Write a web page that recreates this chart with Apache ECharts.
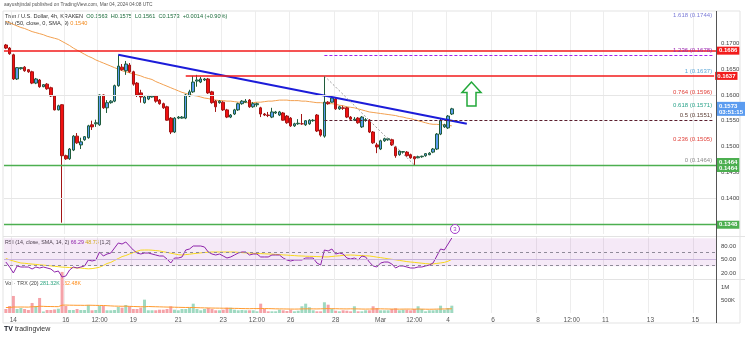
<!DOCTYPE html>
<html><head><meta charset="utf-8">
<script src="https://cdn.jsdelivr.net/npm/echarts/dist/echarts.min.js"></script>
<style>html,body{margin:0;padding:0;background:#fff}#c{width:745px;height:340px}</style>
</head><body><div id="c"></div>
<script>
// ---- data (4h candles) ----
const candleOpen = [.1697,.1691,.1678,.1631,.1651,.1654,.1649,.1645,.1623,.1629,
 .1616,.1621,.1614,.1598,.1571,.1581,.1482,.1476,.1493,.1520,
 .1503,.1513,.1517,.1542,.1544,.1542,.1600,.1575,.1585,.1588,
 .1618,.1654,.1647,.1658,.1645,.1623,.1604,.1585,.1592,.1596,
 .1598,.1590,.1583,.1577,.1555,.1528,.1555,.1555,.1555,.1598,
 .1606,.1627,.1625,.1629,.1631,.1606,.1588,.1585,.1586,.1571,
 .1557,.1563,.1571,.1583,.1586,.1590,.1577,.1581,.1575,.1563,
 .1561,.1557,.1565,.1561,.1565,.1559,.1555,.1540,.1544,.1544,
 .1542,.1544,.1550,.1561,.1532,.1520,.1586,.1586,.1592,.1573,
 .1575,.1575,.1557,.1551,.1555,.1538,.1551,.1551,.1528,.1503,
 .1495,.1511,.1513,.1513,.1499,.1484,.1489,.1489,.1484,.1480,
 .1478,.1480,.1482,.1484,.1489,.1495,.1524,.1538,.1536,.1563];
const candleClose = [.1691,.1680,.1631,.1653,.1653,.1647,.1645,.1623,.1631,.1616,
 .1620,.1612,.1598,.1571,.1579,.1482,.1476,.1495,.1520,.1507,
 .1509,.1519,.1540,.1538,.1546,.1600,.1575,.1585,.1588,.1618,
 .1656,.1649,.1660,.1645,.1621,.1600,.1596,.1596,.1598,.1598,
 .1588,.1583,.1575,.1551,.1528,.1555,.1557,.1557,.1600,.1606,
 .1625,.1629,.1631,.1631,.1604,.1585,.1577,.1588,.1571,.1557,
 .1561,.1571,.1583,.1588,.1588,.1577,.1583,.1583,.1563,.1561,
 .1560,.1567,.1567,.1567,.1551,.1546,.1540,.1544,.1545,.1544,
 .1550,.1551,.1551,.1530,.1522,.1586,.1583,.1594,.1573,.1577,
 .1574,.1557,.1553,.1553,.1546,.1557,.1552,.1528,.1507,.1499,
 .1511,.1515,.1515,.1503,.1482,.1491,.1490,.1482,.1478,.1476,
 .1480,.1481,.1486,.1487,.1495,.1524,.1550,.1542,.1559,.1573];
const candleLow = [.1689,.1678,.1629,.1629,.1649,.1645,.1643,.1621,.1621,.1614,
 .1615,.1610,.1596,.1570,.1570,.1352,.1474,.1474,.1491,.1505,
 .1495,.1511,.1515,.1532,.1538,.1540,.1573,.1565,.1583,.1586,
 .1616,.1647,.1639,.1643,.1618,.1596,.1585,.1583,.1590,.1595,
 .1585,.1581,.1573,.1550,.1524,.1526,.1553,.1554,.1553,.1596,
 .1604,.1616,.1623,.1627,.1602,.1583,.1567,.1583,.1569,.1555,
 .1555,.1561,.1569,.1581,.1585,.1575,.1575,.1577,.1557,.1559,
 .1557,.1555,.1563,.1559,.1550,.1544,.1538,.1538,.1542,.1542,
 .1540,.1542,.1548,.1528,.1519,.1517,.1581,.1585,.1571,.1571,
 .1571,.1555,.1551,.1550,.1544,.1536,.1548,.1526,.1505,.1487,
 .1493,.1509,.1511,.1501,.1478,.1482,.1486,.1480,.1476,.1464,
 .1477,.1478,.1480,.1483,.1487,.1493,.1522,.1536,.1534,.1561];
const candleHigh = [.1699,.1693,.1680,.1654,.1654,.1656,.1650,.1647,.1633,.1631,
 .1621,.1623,.1616,.1600,.1581,.1582,.1484,.1497,.1522,.1526,
 .1517,.1520,.1542,.1550,.1552,.1601,.1601,.1590,.1590,.1620,
 .1678,.1660,.1666,.1662,.1647,.1625,.1610,.1598,.1600,.1600,
 .1600,.1592,.1585,.1579,.1557,.1557,.1559,.1559,.1602,.1610,
 .1637,.1639,.1635,.1633,.1633,.1608,.1590,.1590,.1588,.1573,
 .1563,.1573,.1585,.1590,.1592,.1592,.1586,.1585,.1577,.1565,
 .1567,.1575,.1569,.1569,.1567,.1561,.1557,.1546,.1553,.1563,
 .1551,.1553,.1553,.1563,.1534,.1637,.1588,.1598,.1596,.1579,
 .1579,.1577,.1559,.1557,.1557,.1559,.1555,.1553,.1530,.1507,
 .1513,.1517,.1517,.1515,.1501,.1493,.1491,.1491,.1486,.1481,
 .1482,.1482,.1487,.1489,.1497,.1526,.1555,.1544,.1561,.1575];
const maValues = [.1743,.1740,.1737,.1734,.1731,.1729,.1726,.1723,.1721,.1719,
 .1717,.1714,.1712,.1710,.1708,.1704,.1700,.1696,.1691,.1687,
 .1683,.1679,.1675,.1672,.1668,.1665,.1662,.1659,.1656,.1653,
 .1650,.1647,.1645,.1643,.1641,.1639,.1637,.1634,.1632,.1630,
 .1626,.1623,.1620,.1617,.1614,.1611,.1608,.1605,.1603,.1601,
 .1599,.1598,.1596,.1594,.1593,.1591,.1590,.1589,.1589,.1588,
 .1588,.1587,.1586,.1586,.1585,.1585,.1585,.1586,.1586,.1587,
 .1588,.1588,.1589,.1590,.1590,.1590,.1589,.1589,.1589,.1588,
 .1588,.1587,.1586,.1585,.1585,.1584,.1583,.1583,.1582,.1580,
 .1579,.1577,.1576,.1575,.1573,.1571,.1569,.1567,.1566,.1565,
 .1564,.1563,.1562,.1561,.1560,.1558,.1557,.1555,.1554,.1552,
 .1550,.1548,.1546,.1544,.1543,.1543,.1542,.1542,.1541,.1540];
const rsiValues = [44.4,33.3,20.0,35.6,33.3,33.3,33.3,28.9,33.3,31.1,
 33.3,31.1,28.9,22.2,24.4,11.1,13.3,26.7,33.3,31.1,
 33.3,35.6,48.9,46.7,48.9,66.7,57.8,62.2,64.4,75.6,
 86.7,84.4,88.9,80.0,71.1,64.4,62.2,64.4,64.4,62.2,
 60.0,57.8,57.8,51.1,42.2,53.3,53.3,55.6,71.1,73.3,
 80.0,80.0,80.0,77.8,66.7,62.2,60.0,62.2,57.8,53.3,
 55.6,60.0,64.4,66.7,66.7,60.0,62.2,62.2,55.6,55.6,
 55.6,60.0,60.0,60.0,53.3,48.9,46.7,48.9,48.9,48.9,
 53.3,53.3,53.3,42.2,37.8,71.1,68.9,73.3,62.2,64.4,
 62.2,53.3,51.1,53.3,48.9,57.8,55.6,44.4,35.6,33.3,
 42.2,44.4,44.4,40.0,31.1,35.6,35.6,33.3,31.1,31.1,
 33.3,33.3,35.6,37.8,42.2,57.8,73.3,71.1,84.4,97.8];
const rsiMaValues = [52.2,49.3,46.7,44.4,42.2,41.6,40.7,39.8,39.1,38.2,
 37.6,36.7,35.8,34.9,34.0,33.1,32.7,32.2,31.8,31.3,
 31.1,30.0,29.3,29.8,31.1,32.9,36.7,41.1,43.6,48.0,
 52.2,56.4,58.9,62.2,65.3,68.4,70.9,71.1,71.1,70.7,
 69.8,68.9,67.3,65.8,64.0,62.4,60.7,60.0,60.9,61.8,
 62.9,63.8,64.7,65.6,66.2,66.7,66.7,66.7,66.7,66.7,
 66.7,66.7,66.0,65.3,64.7,64.2,63.8,63.3,63.1,62.7,
 62.2,62.0,61.3,60.9,60.2,59.8,59.1,58.7,58.0,57.8,
 57.3,57.1,56.9,56.4,56.2,55.8,55.8,56.7,57.6,58.2,
 59.1,59.8,60.0,59.6,59.1,58.7,58.2,57.8,56.7,55.3,
 54.2,52.9,51.6,50.4,49.3,48.0,46.7,45.3,44.4,43.6,
 42.7,41.8,40.9,40.2,40.2,41.3,42.4,43.6,46.2,50.2];
const volumeK = [154,269,654,154,192,154,115,385,269,577,
 58,115,115,135,165,1577,269,115,115,154,
 115,115,308,104,115,269,269,104,104,115,
 231,204,308,258,154,154,204,512,104,104,
 104,127,127,154,258,127,104,154,154,204,
 358,154,104,154,192,154,104,104,127,204,
 204,127,104,115,104,104,104,65,358,154,
 65,65,65,127,104,77,127,65,88,258,
 358,219,104,65,65,412,319,154,88,65,
 104,88,65,258,65,65,104,104,258,192,
 104,104,104,154,181,104,127,127,104,154,
 258,154,65,104,104,127,281,127,192,281];
const volumeMaK = [210,212,230,228,230,229,226,240,242,260,255,250,248,245,243,
 300,305,300,298,296,296,293,300,296,292,290,288,280,272,265,262,258,262,
 255,250,245,240,238,250,244,240,236,232,228,226,222,218,215,212,214,210,205,200,196,194,190,188,186,184,182,180,178,176,
 170,168,165,170,168,172,170,168,165,160,158,156,154,152,150,152,156,160,160,158,
 156,160,165,168,166,164,160,158,156,160,158,156,152,150,152,155,158,160,156,154,
 152,150,148,150,152,150,148,152,150,146,144,146,150,152,156,158,162];
// time axis: 4h slots, tick labels
const slotCount = 190;
const timeTickSlots = [2,16,25,34,46,58,67,76,88,100,109,118,130,142,151,160,172,184];
const timeTickLabels = ['14','16','12:00','19','21','23','12:00','26','28','Mar','12:00','4','6','8','12:00','11','13','15'];
// drawings
const trendStart = [30, 0.1678], trendEnd = [123, 0.1544];
const resistanceTop = 0.1686;
const resistanceSecond = 0.1637, resistanceSecondFrom = 48;
const supportLow = 0.1348;
const fibLow = 0.1464, fibHigh = 0.1637, fibFromSlot = 85, fibLowSlot = 109;
const fibLevels = [0, 0.236, 0.5, 0.618, 0.764, 1, 1.236, 1.618];
const lastTimer = '03:51:15';

// ---- build ----
const cats = Array.from({length: slotCount}, (_, i) => String(i));
const tickSet = new Set(timeTickSlots);
const candles = candleOpen.map((o, i) => [o, candleClose[i], candleLow[i], candleHigh[i]]);
const vols = volumeK.map((v, i) => ({value: v * 1000, itemStyle: {color: candleClose[i] >= candleOpen[i] ? '#9fd9c1' : '#f5a2a8'}}));
const volMa = volumeMaK.map(v => v * 1000);
const lastClose = candleClose[candleClose.length - 1];
const lastSlot = slotCount - 1;

const fibColor = {0:'#8a8a8a',0.236:'#e0413a',0.5:'#5d4037',0.618:'#2aa38a',0.764:'#e0413a',1:'#5fa8d8',1.236:'#9c27b0',1.618:'#7c7cd8'};
const fibLines = fibLevels.map(l => {
  const p = fibLow + l * (fibHigh - fibLow);
  let ls = {color: 'rgba(0,0,0,0)', width: 0};
  if (l === 0.5) ls = {color: '#5a1e2e', type: [3, 2], width: 1};
  if (l === 1.236) ls = {color: '#a020f0', type: [3, 2], width: 1};
  return [{coord: [fibFromSlot, p], lineStyle: ls,
    label: {show: true, position: 'insideEndTop', distance: 2, formatter: l + ' (' + p.toFixed(4) + ')', color: fibColor[l], fontSize: 6}},
    {coord: [lastSlot, p]}];
});
function boxLabel(text, bg) {
  return {show: true, position: 'end', distance: 1, formatter: text, color: '#fff', backgroundColor: bg,
    padding: [1, 2], fontSize: 6, lineHeight: 6, fontWeight: 'bold'};
}
const markData = [
  {yAxis: 0.16, lineStyle: {color: '#e6e6e6', width: 1, type: 'solid'}, label: {show: false}},
  {yAxis: 0.14, lineStyle: {color: '#e6e6e6', width: 1, type: 'solid'}, label: {show: false}},
  {yAxis: resistanceTop, lineStyle: {color: '#f21b1b', width: 1.5, type: 'solid'}, label: boxLabel(resistanceTop.toFixed(4), '#f21b1b')},
  [{coord: [resistanceSecondFrom, resistanceSecond], lineStyle: {color: '#f21b1b', width: 1.5, type: 'solid'}, label: boxLabel(resistanceSecond.toFixed(4), '#f21b1b')},
   {coord: [lastSlot, resistanceSecond]}],
  {yAxis: fibLow, lineStyle: {color: '#4caf50', width: 1.3, type: 'solid'}, label: boxLabel(fibLow.toFixed(4) + '\n' + fibLow.toFixed(4), '#4caf50')},
  {yAxis: supportLow, lineStyle: {color: '#4caf50', width: 1.3, type: 'solid'}, label: boxLabel(supportLow.toFixed(4), '#4caf50')},
  {yAxis: lastClose, lineStyle: {color: 'rgba(0,0,0,0)', width: 0}, label: boxLabel(lastClose.toFixed(4) + '\n' + lastTimer, '#5b9cf0')},
  [{coord: [fibFromSlot, fibHigh], lineStyle: {color: '#9a9a9a', type: [2, 2], width: 1}, label: {show: false}},
   {coord: [fibLowSlot, fibLow]}],
  ...fibLines
];

function xAx(gi, showLabels) {
  return {type: 'category', gridIndex: gi, data: cats, boundaryGap: true,
    axisLine: {show: false}, axisTick: {show: false},
    axisLabel: {show: showLabels, interval: (i) => tickSet.has(i), fontSize: 6.5, color: '#555', margin: 4,
      formatter: (v, i) => timeTickLabels[timeTickSlots.indexOf(Number(v))] || ''},
    splitLine: {show: true, interval: (i) => tickSet.has(i), lineStyle: {color: '#ededed', width: 1}}};
}
const chart = echarts.init(document.getElementById('c'), null, {renderer: 'canvas'});
const font = 'Liberation Sans, Arial, sans-serif';
chart.setOption({
  animation: false,
  textStyle: {fontFamily: font},
  grid: [
    {left: 4, right: 29, top: 11, height: 223},
    {left: 4, right: 29, top: 237, height: 45},
    {left: 4, right: 29, top: 270, height: 43}
  ],
  xAxis: [xAx(0, false), xAx(1, false), xAx(2, true)],
  yAxis: [
    {type: 'value', gridIndex: 0, position: 'right', min: 0.133, max: 0.1763, interval: 0.001,
      axisLine: {show: false}, axisTick: {show: false}, splitLine: {show: false},
      axisLabel: {fontSize: 6, color: '#444', margin: 5, formatter: v => {
        const k = Math.round(v * 1000);
        return (Math.abs(v * 1000 - k) < 1e-6 && k % 5 === 0 && k >= 140 && k <= 170) ? v.toFixed(4) : '';
      }}},
    {type: 'value', gridIndex: 1, position: 'right', min: 0, max: 100, interval: 10,
      axisLine: {show: false}, axisTick: {show: false}, splitLine: {show: false},
      axisLabel: {fontSize: 6, color: '#444', margin: 5, formatter: v => ([20, 50, 80].includes(Math.round(v)) ? v.toFixed(2) : '')}},
    {type: 'value', gridIndex: 2, position: 'right', min: 0, max: 1650000, interval: 500000,
      axisLine: {show: false}, axisTick: {show: false}, splitLine: {show: false},
      axisLabel: {fontSize: 6, color: '#444', margin: 5, formatter: v => (v === 500000 ? '500K' : v === 1000000 ? '1M' : '')}}
  ],
  series: [
    {type: 'line', xAxisIndex: 0, yAxisIndex: 0, data: maValues, symbol: 'none', z: 2,
      lineStyle: {color: '#f2a050', width: 1}, silent: true},
    {type: 'candlestick', xAxisIndex: 0, yAxisIndex: 0, data: candles, barWidth: 3, z: 3,
      itemStyle: {color: '#5b9cf0', color0: '#f21010', borderColor: '#1f5c3a', borderColor0: '#a31515', borderWidth: 1},
      markLine: {symbol: 'none', silent: true, animation: false, precision: 6, data: markData}},
    {type: 'line', xAxisIndex: 0, yAxisIndex: 0, data: [trendStart, trendEnd], symbol: 'none', z: 4,
      lineStyle: {color: '#1c1cd9', width: 2}, silent: true},
    {type: 'line', xAxisIndex: 1, yAxisIndex: 1, data: rsiMaValues, symbol: 'none', z: 2,
      lineStyle: {color: '#f7d81c', width: 1}, silent: true},
    {type: 'line', xAxisIndex: 1, yAxisIndex: 1, data: rsiValues, symbol: 'none', z: 3,
      lineStyle: {color: '#8e24aa', width: 1}, silent: true,
      markArea: {silent: true, itemStyle: {color: 'rgba(156,39,176,0.1)'}, data: [[{yAxis: 35}, {yAxis: 97}]]},
      markLine: {symbol: 'none', silent: true, precision: 4, label: {show: false}, data: [
        {yAxis: 67, lineStyle: {color: '#8f8a99', type: [3, 3], width: 1}},
        {yAxis: 38, lineStyle: {color: '#8f8a99', type: [3, 3], width: 1}},
        {yAxis: 51, lineStyle: {color: '#c9b6dc', type: 'solid', width: 1}}
      ]}},
    {type: 'bar', xAxisIndex: 2, yAxisIndex: 2, data: vols, barWidth: 3, silent: true},
    {type: 'line', xAxisIndex: 2, yAxisIndex: 2, data: volMa, symbol: 'none',
      lineStyle: {color: '#ff9a2e', width: 1}, silent: true}
  ],
  graphic: [
    {type: 'rect', shape: {x: 3, y: 11, width: 737, height: 312}, style: {fill: 'none', stroke: '#e3e3e3', lineWidth: 1}, silent: true, z: 0},
    {type: 'line', shape: {x1: 3, y1: 236.5, x2: 745, y2: 236.5}, style: {stroke: '#e3e3e3', lineWidth: 1}, silent: true},
    {type: 'line', shape: {x1: 3, y1: 279.5, x2: 745, y2: 279.5}, style: {stroke: '#e3e3e3', lineWidth: 1}, silent: true},
    {type: 'line', shape: {x1: 716.5, y1: 11, x2: 716.5, y2: 323}, style: {stroke: '#555', lineWidth: 1}, silent: true, z: 10},
    {type: 'text', left: 4, top: 2, style: {text: 'aayushjindal published on TradingView.com, Mar 04, 2024 04:08 UTC', font: '4.8px ' + font, fill: '#555'}},
    {type: 'text', left: 5, top: 13, style: {
      text: '{n|Tron / U.S. Dollar, 4h, KRAKEN}  {v|O0.1563  H0.1575  L0.1561  C0.1573  +0.0014 (+0.90%)}',
      font: '5.6px ' + font, rich: {n: {fill: '#333', font: '5.6px ' + font}, v: {fill: '#1b6b3a', font: '5.6px ' + font}}}},
    {type: 'text', left: 5, top: 20.5, style: {
      text: '{n|MA (50, close, 0, SMA, 9)} {v|0.1540}',
      font: '5.6px ' + font, rich: {n: {fill: '#333', font: '5.6px ' + font}, v: {fill: '#f28a1e', font: '5.6px ' + font}}}},
    {type: 'text', left: 5, top: 240, style: {
      text: '{n|RSI (14, close, SMA, 14, 2)} {p|66.29} {y|48.73} {n|[1,2]}',
      font: '5.3px ' + font, rich: {n: {fill: '#444', font: '5.3px ' + font}, p: {fill: '#8e24aa', font: '5.3px ' + font}, y: {fill: '#d4b400', font: '5.3px ' + font}}}},
    {type: 'text', left: 5, top: 281.5, style: {
      text: '{n|Vol · TRX (20)} {g|281.32K} {o|162.48K}',
      font: '5.3px ' + font, rich: {n: {fill: '#444', font: '5.3px ' + font}, g: {fill: '#26a17b', font: '5.3px ' + font}, o: {fill: '#ff8c1a', font: '5.3px ' + font}}}},
    {type: 'text', left: 4, top: 326, style: {text: '{b|TV} tradingview', font: '7px ' + font, fill: '#333', rich: {b: {font: 'bold 7px ' + font, fill: '#131722'}}}},
    {type: 'polygon', shape: {points: [[471.5, 82], [462, 92.5], [467, 92.5], [467, 106], [476, 106], [476, 92.5], [481, 92.5]]},
      style: {fill: '#fff', stroke: '#22a83a', lineWidth: 1.5}, z: 20},
    {type: 'circle', shape: {cx: 455, cy: 229, r: 4.5}, style: {fill: '#fff', stroke: '#a23bc9', lineWidth: 1}, z: 20},
    {type: 'text', x: 455, y: 229, style: {text: '3', font: '6px ' + font, fill: '#a23bc9', align: 'center', verticalAlign: 'middle'}, z: 21}
  ]
});
</script>
</body></html>
